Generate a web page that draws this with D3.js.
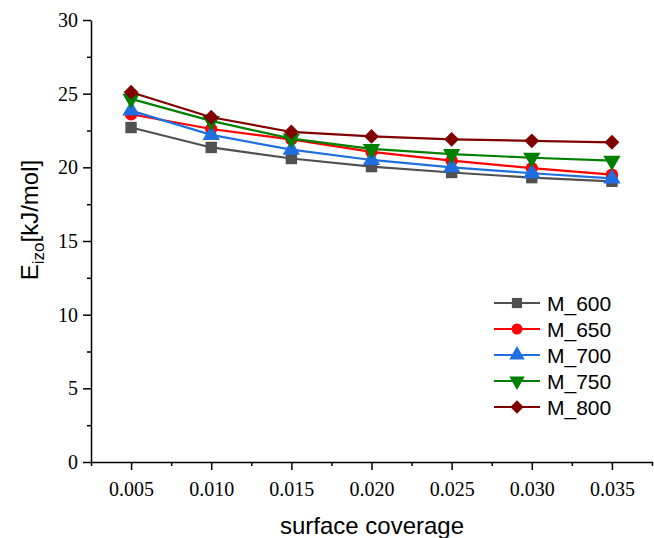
<!DOCTYPE html>
<head>
<meta charset="utf-8">
<title>Eizo vs surface coverage</title>
<script src="https://d3js.org/d3.v7.min.js"></script>
<style>
  body { margin: 0; background: #fff; }
  svg { display: block; }
  .tick text { font-family: "Liberation Serif", "Times New Roman", serif; font-size: 20px; fill: #000; }
  .axis path, .axis line { stroke: #000; stroke-width: 1.5px; }
  .title { font-family: "Liberation Sans", Arial, sans-serif; font-size: 24px; fill: #000; }
  .legend text { font-family: "Liberation Sans", Arial, sans-serif; font-size: 21px; fill: #000; }
</style>
</head>
<body>
<div id="chart"></div>
<script>
//---------------------------DATA--------------------------------//
const coverage = [0.005, 0.010, 0.015, 0.020, 0.025, 0.030, 0.035];
const seriesNames = ["M_600", "M_650", "M_700", "M_750", "M_800"];
const m600 = [22.7, 21.35, 20.6, 20.05, 19.65, 19.3, 19.05];
const m650 = [23.6, 22.6, 21.9, 21.05, 20.45, 19.95, 19.5];
const m700 = [23.85, 22.2, 21.2, 20.5, 20.0, 19.6, 19.25];
const m750 = [24.65, 23.15, 21.95, 21.25, 20.9, 20.65, 20.45];
const m800 = [25.1, 23.4, 22.4, 22.1, 21.9, 21.8, 21.7];
const yTicks = [0, 5, 10, 15, 20, 25, 30];
const xTicks = [0.005, 0.010, 0.015, 0.020, 0.025, 0.030, 0.035];

const colors = ["#515151", "#ff0000", "#1f6fe0", "#008000", "#800000"];
// marker: d3 symbol + rotation (down triangle and square diamond are rotated)
const shapes = [d3.symbolSquare, d3.symbolCircle, d3.symbolTriangle, d3.symbolTriangle, d3.symbolSquare];
const turns = [0, 0, 0, 180, 45];
const sizes = [130, 120, 130, 130, 110];

const series = seriesNames.map(function(name, i) {
    return { id: name, values: [m600, m650, m700, m750, m800][i] };
});

//---------------------------SVG---------------------------------//
const W = 654, H = 538;
const svg = d3.select("#chart").append("svg")
    .attr("width", W)
    .attr("height", H);

const xScale = d3.scaleLinear().domain([0.0025, 0.0375]).range([91, 652]);
const yScale = d3.scaleLinear().domain([0, 30]).range([462, 20]);

//---------------------------AXES--------------------------------//
const xMinor = d3.range(0.0025, 0.0376, 0.005);
const yMinor = d3.range(2.5, 30, 5);

svg.append("g")
    .attr("class", "axis")
    .attr("transform", "translate(0," + yScale(0) + ")")
    .call(d3.axisBottom(xScale).tickValues(xMinor).tickSize(4).tickFormat(""))
    .call(g => g.select(".domain").remove());

svg.append("g")
    .attr("class", "axis")
    .attr("transform", "translate(0," + yScale(0) + ")")
    .call(d3.axisBottom(xScale).tickValues(xTicks).tickSize(8).tickSizeOuter(0)
        .tickPadding(12).tickFormat(d3.format(".3f")));

svg.append("g")
    .attr("class", "axis")
    .attr("transform", "translate(" + xScale(0.0025) + ",0)")
    .call(d3.axisLeft(yScale).tickValues(yMinor).tickSize(4).tickFormat(""))
    .call(g => g.select(".domain").remove());

svg.append("g")
    .attr("class", "axis")
    .attr("transform", "translate(" + xScale(0.0025) + ",0)")
    .call(d3.axisLeft(yScale).tickValues(yTicks).tickSize(8).tickSizeOuter(0)
        .tickPadding(5));

// axis titles
svg.append("text")
    .attr("class", "title")
    .attr("x", 372)
    .attr("y", 534)
    .attr("text-anchor", "middle")
    .text("surface coverage");

const yt = svg.append("text")
    .attr("class", "title")
    .attr("transform", "translate(38,220) rotate(-90)")
    .attr("text-anchor", "middle");
yt.append("tspan").text("E");
yt.append("tspan").attr("dy", 6).style("font-size", "17px").text("izo");
yt.append("tspan").attr("dy", -6).text("[kJ/mol]");

//---------------------------LINES-------------------------------//
const line = d3.line()
    .x(function(d, i) { return xScale(coverage[i]); })
    .y(function(d) { return yScale(d); });

const groups = svg.selectAll(".serie")
    .data(series)
    .enter()
    .append("g")
    .attr("class", "serie");

groups.append("path")
    .attr("fill", "none")
    .attr("stroke", function(d, i) { return colors[i]; })
    .attr("stroke-width", 2.2)
    .attr("d", function(d) { return line(d.values); });

groups.each(function(s, si) {
    d3.select(this).selectAll(".pt")
        .data(s.values)
        .enter()
        .append("path")
        .attr("class", "pt")
        .attr("fill", colors[si])
        .attr("d", d3.symbol(shapes[si], sizes[si])())
        .attr("transform", function(d, i) {
            return "translate(" + xScale(coverage[i]) + "," + yScale(d) + ") rotate(" + turns[si] + ")";
        });
});

//---------------------------LEGEND------------------------------//
const legend = svg.append("g").attr("class", "legend");
const legItems = legend.selectAll("g")
    .data(series)
    .enter()
    .append("g")
    .attr("transform", function(d, i) { return "translate(494," + (303 + i * 26) + ")"; });

legItems.append("line")
    .attr("x1", 0).attr("x2", 46)
    .attr("stroke", function(d, i) { return colors[i]; })
    .attr("stroke-width", 2);

legItems.append("path")
    .attr("fill", function(d, i) { return colors[i]; })
    .attr("d", function(d, i) { return d3.symbol(shapes[i], sizes[i] * 0.8)(); })
    .attr("transform", function(d, i) { return "translate(23,0) rotate(" + turns[i] + ")"; });

legItems.append("text")
    .attr("x", 53)
    .attr("dy", "0.36em")
    .text(function(d) { return d.id; });
</script>
</div>
</body>
